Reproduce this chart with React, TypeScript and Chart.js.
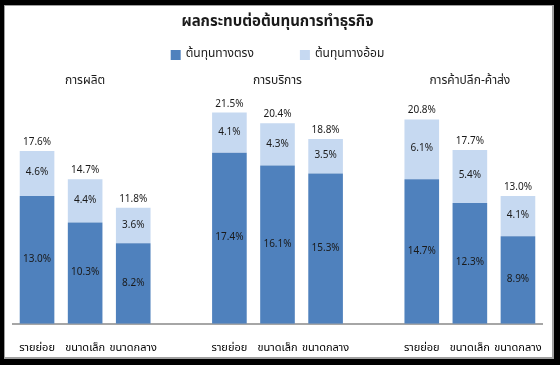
import React, { useEffect, useRef } from "react";
import { Chart, registerables } from "chart.js";

Chart.register(...registerables);

const TITLE = "ผลกระทบต่อต้นทุนการทำธุรกิจ";
const groups = ["การผลิต", "การบริการ", "การค้าปลีก-ค้าส่ง"];
const categories = [
  "รายย่อย", "ขนาดเล็ก", "ขนาดกลาง", "",
  "รายย่อย", "ขนาดเล็ก", "ขนาดกลาง", "",
  "รายย่อย", "ขนาดเล็ก", "ขนาดกลาง",
];
const seriesNames = ["ต้นทุนทางตรง", "ต้นทุนทางอ้อม"];
const direct = [13.0, 10.3, 8.2, null, 17.4, 16.1, 15.3, null, 14.7, 12.3, 8.9];
const indirect = [4.6, 4.4, 3.6, null, 4.1, 4.3, 3.5, null, 6.1, 5.4, 4.1];
const totals = [17.6, 14.7, 11.8, null, 21.5, 20.4, 18.8, null, 20.8, 17.7, 13.0];

const DARK = "#4F81BD";
const LIGHT = "#C6D9F1";
const FONT = "Tahoma, 'Noto Sans Thai', 'Noto Sans', 'DejaVu Sans', sans-serif";

const labelPlugin = {
  id: "labels",
  afterDatasetsDraw(chart: any) {
    const ctx = chart.ctx;
    const area = chart.chartArea;
    ctx.save();
    ctx.fillStyle = "#1a1a1a";
    ctx.textAlign = "center";
    ctx.textBaseline = "middle";
    ctx.font = `10px ${FONT}`;
    chart.data.datasets.forEach((ds: any, di: number) => {
      const meta = chart.getDatasetMeta(di);
      meta.data.forEach((bar: any, i: number) => {
        const v = ds.data[i];
        if (v == null) return;
        ctx.fillText(v.toFixed(1) + "%", bar.x, (bar.y + bar.base) / 2);
        if (di === 1 && totals[i] != null) {
          ctx.textBaseline = "bottom";
          ctx.fillText((totals[i] as number).toFixed(1) + "%", bar.x, bar.y - 3);
          ctx.textBaseline = "middle";
        }
      });
    });
    // group labels
    const xs = chart.scales.x;
    ctx.font = `12px ${FONT}`;
    groups.forEach((g, gi) => {
      const x = xs.getPixelForValue(gi * 4 + 1);
      ctx.fillText(g, x, area.top - 6);
    });
    // title
    const cx = (area.left + area.right) / 2;
    ctx.font = `bold 15px ${FONT}`;
    ctx.fillText(TITLE, cx, 23);
    // legend
    ctx.font = `12px ${FONT}`;
    const colors = [DARK, LIGHT];
    const widths = seriesNames.map((n) => 10 + 5 + ctx.measureText(n).width);
    const gap = 46;
    const total = widths[0] + widths[1] + gap;
    let x0 = cx - total / 2;
    seriesNames.forEach((n, i) => {
      ctx.fillStyle = colors[i];
      ctx.fillRect(x0, 50, 10, 10);
      ctx.fillStyle = "#1a1a1a";
      ctx.textAlign = "left";
      ctx.fillText(n, x0 + 15, 55);
      x0 += widths[i] + gap;
    });
    ctx.restore();
  },
};

export default function App() {
  const ref = useRef<HTMLCanvasElement | null>(null);
  useEffect(() => {
    if (!ref.current) return;
    const chart = new Chart(ref.current, {
      type: "bar",
      data: {
        labels: categories,
        datasets: [
          { label: seriesNames[0], data: direct, backgroundColor: DARK, stack: "s" },
          { label: seriesNames[1], data: indirect, backgroundColor: LIGHT, stack: "s" },
        ],
      },
      options: {
        responsive: false,
        animation: false,
        layout: { padding: { left: 13, right: 18, top: 88, bottom: 0 } },
        plugins: {
          legend: { display: false },
          title: { display: false },
          tooltip: { enabled: false },
        },
        scales: {
          x: {
            stacked: true,
            grid: { display: false },
            border: { display: true, color: "#a6a6a6", width: 2 },
            ticks: { color: "#000", font: { family: FONT, size: 11 }, padding: 10, maxRotation: 0, autoSkip: false },
            categoryPercentage: 1,
            barPercentage: 0.875,
          } as any,
          y: {
            stacked: true,
            display: false,
            min: 0,
            max: 24,
          },
        },
      },
      plugins: [labelPlugin],
    });
    return () => chart.destroy();
  }, []);
  return (
    <div style={{ position: "fixed", left: 0, top: 0, width: 560, height: 365, background: "#000" }}>
      <div
        style={{
          position: "absolute",
          left: 4,
          top: 5,
          width: 547,
          height: 351,
          background: "#fff",
          border: "1px solid #a0a0a0",
          borderRightWidth: 2,
          borderBottomWidth: 2,
        }}
      />
      <canvas ref={ref} width={560} height={365} style={{ position: "absolute", left: 0, top: 0 }} />
    </div>
  );
}
